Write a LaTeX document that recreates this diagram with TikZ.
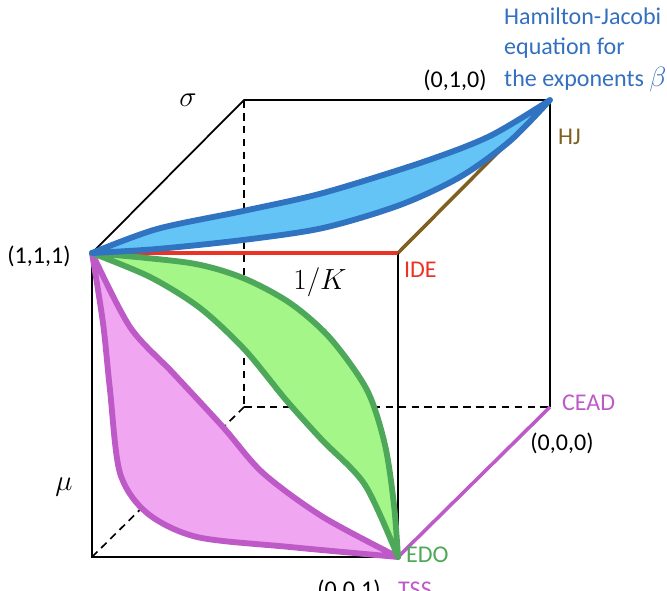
\documentclass[tikz,border=0pt]{standalone}
\usepackage{fontspec}
\setmainfont{Carlito}
\usetikzlibrary{calc}
\definecolor{lensblue}{RGB}{47, 115, 193}
\definecolor{fillblue}{RGB}{99, 196, 245}
\definecolor{lensgreen}{RGB}{78, 168, 90}
\definecolor{fillgreen}{RGB}{164, 246, 136}
\definecolor{lenspink}{RGB}{190, 90, 200}
\definecolor{fillpink}{RGB}{240, 166, 240}
\definecolor{idered}{RGB}{236, 50, 36}
\definecolor{hjbrown}{RGB}{126, 96, 32}
\definecolor{textblue}{RGB}{52, 112, 192}

\begin{document}
\begin{tikzpicture}[x=0.03cm, y=-0.03cm,
  edge/.style={line width=1.5pt, black},
  hidden/.style={line width=1.4pt, black, dash pattern=on 6.5pt off 4.5pt},
  colored/.style={line width=3pt},
  lens/.style={line width=5pt, line join=round},
  lbl/.style={font=\fontsize{20.5}{26}\selectfont},
  mathlbl/.style={font=\fontsize{27}{30}\selectfont},
  note/.style={lbl, textblue, anchor=base west, inner sep=0pt}]
  \useasboundingbox (0,0) rectangle (667,591);

  % ===== cube corners =====
  \coordinate (p111) at (92,253);
  \coordinate (p011) at (398,253);
  \coordinate (p101) at (92,557);
  \coordinate (p001) at (398,557);
  \coordinate (p110) at (244,100);
  \coordinate (p010) at (550,100);
  \coordinate (p100) at (244,407);
  \coordinate (p000) at (550,407);

  % hidden edges
  \draw[hidden] (p110) -- (p100);
  \draw[hidden] (p100) -- (p000);
  \draw[hidden] (p101) -- (p100);

  % visible edges
  \draw[edge] (p111) -- (p101) -- (p001) -- (p011);
  \draw[edge] (p111) -- (p110) -- (p010) -- (p000);

  % colored edges
  \draw[colored, idered] (p111) -- (p011);
  \draw[colored, hjbrown] (p011) -- (p010);
  \draw[colored, lenspink] (p001) -- (p000);

  % ===== TSS lens =====
  \filldraw[lens, draw=lenspink, fill=fillpink]
    plot[smooth] coordinates {(92,253) (130,327) (173,373) (223,427) (263,473) (323,517) (398,557)}
    -- plot[smooth] coordinates {(398,557) (290,547) (197,537) (147,513) (120,473) (110,390) (103,323) (92,253)}
    -- cycle;

  % ===== EDO lens =====
  \filldraw[lens, draw=lensgreen, fill=fillgreen]
    plot[smooth] coordinates {(92,253) (190,263) (243,278) (290,303) (330,338) (367,390) (385,445) (394,505) (398,557)}
    -- plot[smooth] coordinates {(398,557) (365,485) (322,440) (286,400) (245,350) (200,308) (150,277) (92,253)}
    -- cycle;

  % ===== HJ lens =====
  \filldraw[lens, draw=lensblue, fill=fillblue]
    plot[smooth] coordinates {(92,253) (157,229) (243,211) (323,193) (423,162) (490,136) (550,100)}
    -- plot[smooth] coordinates {(550,100) (510,141) (460,177) (400,205) (323,228) (243,240) (157,249) (92,253)}
    -- cycle;

  % ===== labels =====
  \node[mathlbl] (sigma) at (188,100) {$\sigma$};
  \node[mathlbl] (mu) at (64,487) {$\mu$};
  \node[mathlbl] (invk) at (320,282) {$1/K$};
  \node[lbl] (c111) at (39,256) {(1,1,1)};
  \node[lbl] (c010) at (455,80) {(0,1,0)};
  \node[lbl] (c000) at (562,443) {(0,0,0)};
  \node[lbl] (c001) at (349,590) {(0,0,1)};
  \node[lbl, idered, anchor=west] (ide) at (400,270) {IDE};
  \node[lbl, hjbrown, anchor=west] (hj) at (554,137) {HJ};
  \node[lbl, lenspink, anchor=west] (cead) at (558,403) {CEAD};
  \node[lbl, lensgreen, anchor=west] (edo) at (402,555) {EDO};
  \node[lbl, lenspink, anchor=west] (tss) at (394,590) {TSS};

  % ===== note (top right) =====
  \node[note] (note1) at (504,25) {Hamilton-Jacobi};
  \node[note] (note2) at (504,55) {equation for};
  \node[note] (note3) at (504,86) {the exponents \scalebox{1.15}{$\beta$}};
\end{tikzpicture}
\end{document}
